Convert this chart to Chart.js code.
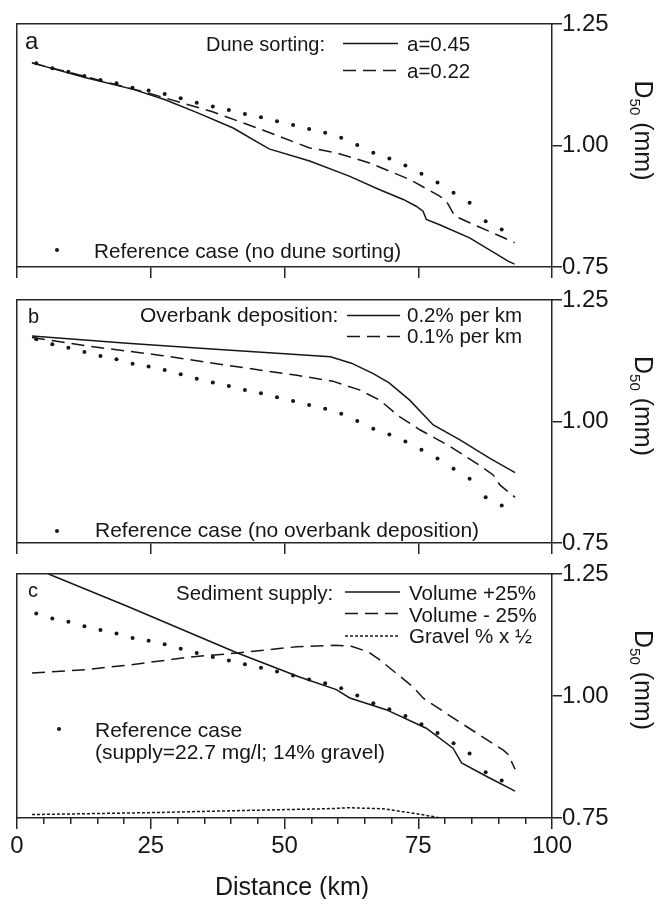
<!DOCTYPE html>
<html>
<head>
<meta charset="utf-8">
<script src="https://cdn.jsdelivr.net/npm/chart.js@4.4.1/dist/chart.umd.min.js"></script>
<style>
html,body{margin:0;padding:0;background:#fff;}
#wrap{position:relative;width:662px;height:899px;overflow:hidden;background:#fff;}
canvas{position:absolute;left:0;}
</style>
</head>
<body>
<div id="wrap">
<canvas id="ca" style="top:0px;width:662px;height:285px" width="662" height="285"></canvas>
<canvas id="cb" style="top:285px;width:662px;height:273px" width="662" height="273"></canvas>
<canvas id="cc" style="top:558px;width:662px;height:341px" width="662" height="341"></canvas>
</div>
<script>
// ---------- data (distance in km, D50 in mm) ----------
const refKm  = [3.6, 6.6, 9.6, 12.6, 15.6, 18.6, 21.6, 24.6, 27.6, 30.6, 33.6, 36.6, 39.6, 42.6, 45.6,
                48.6, 51.6, 54.6, 57.6, 60.6, 63.6, 66.6, 69.6, 72.6, 75.6, 78.6, 81.6, 84.6, 87.6, 90.6];
const refD50 = [1.169, 1.159, 1.152, 1.143, 1.135, 1.128, 1.119, 1.113, 1.106, 1.097, 1.088, 1.080, 1.073, 1.065, 1.058,
                1.050, 1.042, 1.034, 1.026, 1.016, 1.001, 0.985, 0.973, 0.959, 0.942, 0.924, 0.903, 0.882, 0.844, 0.827];

// panel a: dune sorting
const duneA45Km  = [2.8, 12.7, 21.9, 27.7, 34.0, 40.4, 47.1, 54.7, 62.1, 67.8, 72.2, 74.6, 75.9, 76.5, 79.0, 84.6, 91.8, 93.0];
const duneA45D50 = [1.170, 1.140, 1.115, 1.094, 1.066, 1.036, 0.993, 0.968, 0.937, 0.909, 0.889, 0.875, 0.865, 0.848, 0.837, 0.810, 0.762, 0.756];
const duneA22Km  = [2.8, 12.7, 24.5, 36.4, 45.9, 54.7, 59.7, 65.9, 73.4, 79.0, 80.3, 81.8, 84.6, 89.6, 93.0];
const duneA22D50 = [1.170, 1.142, 1.108, 1.070, 1.032, 0.995, 0.985, 0.964, 0.930, 0.896, 0.885, 0.855, 0.841, 0.817, 0.800];

// panel b: overbank deposition
const over02Km  = [2.8, 20.6, 36.4, 58.6, 62.5, 66.5, 69.5, 73.4, 77.8, 82.8, 88.4, 93.1];
const over02D50 = [1.176, 1.161, 1.149, 1.133, 1.120, 1.099, 1.080, 1.044, 0.993, 0.962, 0.924, 0.895];
const over01Km  = [2.8, 12.7, 26.9, 39.6, 52.3, 59.0, 64.0, 67.8, 71.5, 75.3, 80.9, 85.9, 89.0, 90.3, 93.1];
const over01D50 = [1.173, 1.156, 1.136, 1.115, 1.095, 1.083, 1.065, 1.044, 1.010, 0.983, 0.949, 0.914, 0.890, 0.869, 0.844];

// panel c: sediment supply
const supPlusKm   = [5.9, 20.6, 41.2, 52.8, 59.7, 62.2, 69.0, 76.5, 81.5, 83.1, 87.8, 93.1];
const supPlusD50  = [1.250, 1.184, 1.088, 1.039, 1.013, 0.996, 0.972, 0.934, 0.893, 0.863, 0.835, 0.805];
const supMinusKm  = [2.8, 12.7, 20.6, 32.5, 41.2, 52.3, 59.4, 62.5, 65.7, 67.8, 74.0, 75.9, 81.5, 86.5, 90.9, 91.8, 93.1];
const supMinusD50 = [1.047, 1.054, 1.063, 1.080, 1.088, 1.101, 1.104, 1.102, 1.090, 1.074, 1.019, 0.996, 0.955, 0.920, 0.889, 0.880, 0.850];
const gravelKm    = [2.8, 25.0, 45.0, 58.0, 62.0, 68.4, 73.4, 77.8, 80.0];
const gravelD50   = [0.757, 0.761, 0.766, 0.769, 0.771, 0.769, 0.761, 0.753, 0.748];

// ticks and labels
const xTickValues = [0, 25, 50, 75, 100];
const xTickLabels = ['0', '25', '50', '75', '100'];
const xMinorTickValues = [5, 10, 15, 20, 30, 35, 40, 45, 55, 60, 65, 70, 80, 85, 90, 95];
const yTickValues = [0.75, 1.00, 1.25];
const yTickLabels = ['0.75', '1.00', '1.25'];
const xTitle = 'Distance (km)';
const yTitleParts = ['D', '50', ' (mm)'];

const panelLetters = ['a', 'b', 'c'];
const legendHeads = ['Dune sorting:', 'Overbank deposition:', 'Sediment supply:'];
const aSeriesLabels = ['a=0.45', 'a=0.22'];
const bSeriesLabels = ['0.2% per km', '0.1% per km'];
const cSeriesLabels = ['Volume +25%', 'Volume - 25%', 'Gravel % x ½'];
const refLabelA = 'Reference case (no dune sorting)';
const refLabelB = 'Reference case (no overbank deposition)';
const refLabelC = ['Reference case', '(supply=22.7 mg/l; 14% gravel)'];

// ---------- styling ----------
const FONT = "'Liberation Sans', Arial, Helvetica, sans-serif";
const INK = '#161616';
const AXIS = '#262626';
const SOLID = [];
const DASH = [13, 7];
const DOTS = [3, 2];
const LW = 1.5;

function pts(km, d) { return km.map((k, i) => ({ x: k, y: d[i] })); }

function txt(ctx, s, x, y, size, align) {
  ctx.font = size + 'px ' + FONT;
  ctx.fillStyle = INK;
  ctx.textAlign = align || 'left';
  ctx.textBaseline = 'alphabetic';
  ctx.fillText(s, x, y);
}
function sample(ctx, x1, x2, y, dash) {
  ctx.beginPath();
  ctx.setLineDash(dash);
  ctx.lineWidth = LW;
  ctx.strokeStyle = INK;
  ctx.moveTo(x1, y); ctx.lineTo(x2, y);
  ctx.stroke();
  ctx.setLineDash([]);
}
function dot(ctx, x, y) {
  ctx.beginPath();
  ctx.arc(x, y, 2, 0, Math.PI * 2);
  ctx.fillStyle = INK;
  ctx.fill();
}
function yTitle(ctx, x, cy) {
  ctx.save();
  ctx.translate(x, cy);
  ctx.rotate(Math.PI / 2);
  ctx.fillStyle = INK;
  ctx.textBaseline = 'alphabetic';
  ctx.textAlign = 'left';
  const big = '25px ' + FONT, small = '15px ' + FONT;
  ctx.font = big; const w0 = ctx.measureText(yTitleParts[0]).width; const w2 = ctx.measureText(yTitleParts[2]).width;
  ctx.font = small; const w1 = ctx.measureText(yTitleParts[1]).width;
  let px = -(w0 + w1 + w2) / 2;
  ctx.font = big; ctx.fillText(yTitleParts[0], px, 0); px += w0;
  ctx.font = small; ctx.fillText(yTitleParts[1], px, 5); px += w1;
  ctx.font = big; ctx.fillText(yTitleParts[2], px, 0);
  ctx.restore();
}

function makePanel(id, cfg) {
  const datasets = cfg.series.map(s => ({
    label: s.label,
    data: pts(s.km, s.d50),
    xAxisID: 'x', yAxisID: 'y',
    borderColor: INK, borderWidth: LW, borderDash: s.dash,
    pointRadius: 0, fill: false, tension: 0, showLine: true,
    borderCapStyle: 'butt', borderJoinStyle: 'miter'
  }));
  datasets.push({
    label: 'Reference case',
    data: pts(refKm, refD50),
    xAxisID: 'x', yAxisID: 'y',
    showLine: false, pointRadius: 2, pointHoverRadius: 2,
    pointBackgroundColor: INK, pointBorderWidth: 0, borderColor: INK
  });

  const scales = {
    x: {
      type: 'linear', position: 'bottom', min: 0, max: 100,
      afterBuildTicks: s => { s.ticks = xTickValues.map(v => ({ value: v })); },
      ticks: {
        display: cfg.xLabels, autoSkip: false, maxRotation: 0, minRotation: 0, padding: 3,
        color: INK, font: { family: FONT, size: 24 },
        callback: (v, i) => xTickLabels[i]
      },
      grid: { display: true, drawOnChartArea: false, drawTicks: true, tickLength: 11, color: AXIS, lineWidth: LW, tickWidth: LW },
      border: { display: true, color: AXIS, width: LW },
      afterFit: s => { s.height = cfg.xH; }
    },
    xTop: {
      type: 'linear', position: 'top', min: 0, max: 100,
      ticks: { display: false },
      grid: { display: true, drawOnChartArea: false, drawTicks: false },
      border: { display: true, color: AXIS, width: LW },
      afterFit: s => { s.height = 0; }
    },
    y: {
      type: 'linear', position: 'right', min: 0.75, max: 1.25,
      afterBuildTicks: s => { s.ticks = yTickValues.map(v => ({ value: v })); },
      ticks: {
        padding: 0, color: INK, font: { family: FONT, size: 24 },
        callback: (v, i) => yTickLabels[i]
      },
      grid: { display: true, drawOnChartArea: false, drawTicks: true, tickLength: 10, color: AXIS, lineWidth: LW, tickWidth: LW },
      border: { display: true, color: AXIS, width: LW },
      afterFit: s => { s.width = 662 - 552; }
    },
    yLeft: {
      type: 'linear', position: 'left', min: 0.75, max: 1.25,
      ticks: { display: false },
      grid: { display: true, drawOnChartArea: false, drawTicks: false },
      border: { display: true, color: AXIS, width: LW },
      afterFit: s => { s.width = 0; }
    }
  };
  if (cfg.minor) {
    scales.xMinor = {
      type: 'linear', axis: 'x', position: { y: 0.75 }, min: 0, max: 100,
      afterBuildTicks: s => { s.ticks = xMinorTickValues.map(v => ({ value: v })); },
      ticks: { display: false },
      grid: { display: true, drawOnChartArea: false, drawTicks: true, tickLength: 6, color: AXIS, lineWidth: LW, tickWidth: LW },
      border: { display: false }
    };
  }

  return new Chart(document.getElementById(id), {
    type: 'line',
    data: { datasets },
    options: {
      responsive: false, animation: false, events: [],
      layout: { padding: { left: 17, top: cfg.top, right: 0, bottom: 0 } },
      plugins: { legend: { display: false }, tooltip: { enabled: false }, title: { display: false } },
      scales
    },
    plugins: [{ id: 'notes', afterDraw(chart) { const c = chart.ctx; c.save(); cfg.notes(c); c.restore(); } }]
  });
}

// ---------- panel a (canvas top 0) ----------
makePanel('ca', {
  top: 24, xH: 18, xLabels: false, minor: false,
  series: [
    { label: aSeriesLabels[0], km: duneA45Km, d50: duneA45D50, dash: SOLID },
    { label: aSeriesLabels[1], km: duneA22Km, d50: duneA22D50, dash: DASH }
  ],
  notes(ctx) {
    const o = 0;
    txt(ctx, panelLetters[0], 25, 49 - o, 24);
    txt(ctx, legendHeads[0], 206, 51 - o, 20);
    sample(ctx, 343, 398, 43.5 - o, SOLID); txt(ctx, aSeriesLabels[0], 407, 51 - o, 20.5);
    sample(ctx, 343, 398, 70.5 - o, DASH);  txt(ctx, aSeriesLabels[1], 407, 78 - o, 20.5);
    dot(ctx, 57, 250 - o); txt(ctx, refLabelA, 94, 258 - o, 20.7);
    yTitle(ctx, 635, 130.5 - o);
  }
});

// ---------- panel b (canvas top 285) ----------
makePanel('cb', {
  top: 15, xH: 15, xLabels: false, minor: false,
  series: [
    { label: bSeriesLabels[0], km: over02Km, d50: over02D50, dash: SOLID },
    { label: bSeriesLabels[1], km: over01Km, d50: over01D50, dash: DASH }
  ],
  notes(ctx) {
    const o = 285;
    txt(ctx, panelLetters[1], 28, 323 - o, 20);
    txt(ctx, legendHeads[1], 140, 322 - o, 21);
    sample(ctx, 347, 400, 315.5 - o, SOLID); txt(ctx, bSeriesLabels[0], 407, 322 - o, 20.5);
    sample(ctx, 347, 400, 336.5 - o, DASH);  txt(ctx, bSeriesLabels[1], 407, 343 - o, 20.5);
    dot(ctx, 57, 531 - o); txt(ctx, refLabelB, 95, 537 - o, 21);
    yTitle(ctx, 635, 406 - o);
  }
});

// ---------- panel c (canvas top 558) ----------
makePanel('cc', {
  top: 16, xH: 81, xLabels: true, minor: true,
  series: [
    { label: cSeriesLabels[0], km: supPlusKm, d50: supPlusD50, dash: SOLID },
    { label: cSeriesLabels[1], km: supMinusKm, d50: supMinusD50, dash: DASH },
    { label: cSeriesLabels[2], km: gravelKm, d50: gravelD50, dash: DOTS }
  ],
  notes(ctx) {
    const o = 558;
    txt(ctx, panelLetters[2], 28, 597 - o, 20);
    txt(ctx, legendHeads[2], 176, 600 - o, 20.5);
    sample(ctx, 345, 400, 592 - o, SOLID); txt(ctx, cSeriesLabels[0], 409, 600 - o, 20.5);
    sample(ctx, 345, 400, 613.5 - o, DASH); txt(ctx, cSeriesLabels[1], 409, 622 - o, 20.5);
    sample(ctx, 345, 400, 636 - o, DOTS);  txt(ctx, cSeriesLabels[2], 409, 643 - o, 20.5);
    dot(ctx, 59, 729 - o);
    txt(ctx, refLabelC[0], 95, 737 - o, 21);
    txt(ctx, refLabelC[1], 95, 759 - o, 21);
    yTitle(ctx, 635, 680 - o);
    txt(ctx, xTitle, 292, 895 - o, 25, 'center');
  }
});
</script>
</body>
</html>
